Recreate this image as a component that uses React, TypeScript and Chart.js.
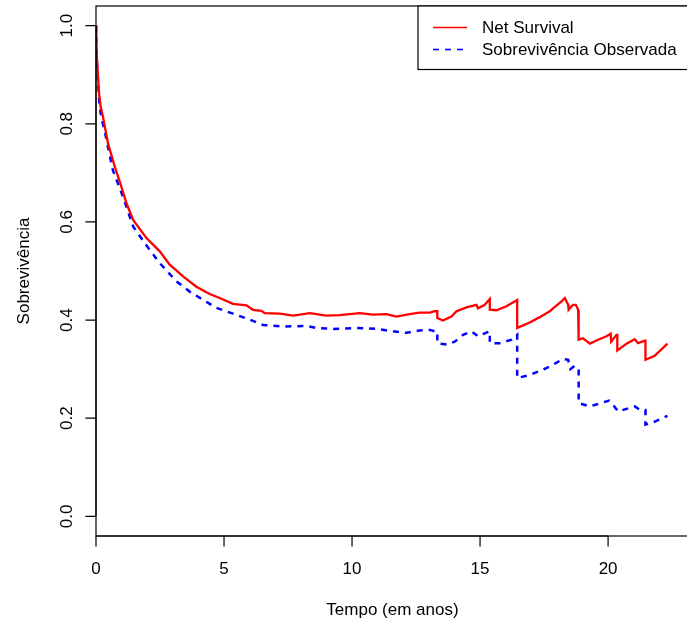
import { useEffect, useRef } from "react";
import { Chart, registerables } from "chart.js";

Chart.register(...registerables);

// Net survival estimate (years, proportion)
const netTime = [
  0, 0.015, 0.04, 0.08, 0.12, 0.18, 0.27, 0.47, 0.73, 0.99, 1.19, 1.45, 1.97, 2.49, 2.88, 3.4, 3.92,
  4.44, 4.83, 5.35, 5.88, 6.13, 6.46, 6.59, 7.18, 7.7, 8.35, 9.0, 9.52, 10.3, 10.82, 11.34, 11.73,
  12.25, 12.64, 13.04, 13.23, 13.33, 13.33, 13.55, 13.88, 14.08, 14.47, 14.86, 14.92, 15.18, 15.38,
  15.38, 15.64, 16.03, 16.45, 16.45, 16.94, 17.33, 17.72, 17.85, 18.18, 18.31, 18.44, 18.46, 18.63,
  18.74, 18.83, 18.85, 18.85, 19.02, 19.29, 19.61, 19.94, 20.1, 20.12, 20.33, 20.36, 20.36, 20.72,
  21.04, 21.17, 21.43, 21.46, 21.46, 21.82, 22.32,
];
const netSurv = [
  1.0, 0.964, 0.93, 0.896, 0.862, 0.835, 0.815, 0.76, 0.713, 0.672, 0.638, 0.604, 0.567, 0.54, 0.513,
  0.489, 0.468, 0.453, 0.445, 0.433, 0.43, 0.421, 0.419, 0.414, 0.413, 0.409, 0.414, 0.409, 0.41,
  0.414, 0.411, 0.412, 0.407, 0.412, 0.415, 0.415, 0.418, 0.418, 0.404, 0.399, 0.407, 0.418, 0.426,
  0.431, 0.424, 0.431, 0.443, 0.421, 0.42, 0.428, 0.441, 0.384, 0.395, 0.406, 0.418, 0.424, 0.438,
  0.445, 0.431, 0.421, 0.431, 0.431, 0.421, 0.421, 0.36, 0.363, 0.352, 0.36, 0.367, 0.372, 0.356,
  0.37, 0.37, 0.338, 0.352, 0.361, 0.353, 0.358, 0.358, 0.319, 0.327, 0.352,
];

// Observed (overall) survival
const obsTime = [
  0, 0.015, 0.04, 0.08, 0.14, 0.22, 0.34, 0.66, 1.05, 1.45, 1.9, 2.49, 3.14, 3.66, 4.38, 4.7, 5.35,
  6.0, 6.52, 7.3, 8.22, 8.61, 9.26, 10.17, 10.95, 11.6, 12.13, 12.64, 13.04, 13.23, 13.33, 13.33,
  13.69, 14.01, 14.34, 14.66, 14.92, 15.18, 15.38, 15.38, 15.77, 16.23, 16.45, 16.45, 16.94, 17.46,
  17.85, 18.24, 18.44, 18.53, 18.7, 18.85, 18.85, 19.29, 19.67, 20.04, 20.2, 20.39, 20.72, 21.04,
  21.24, 21.46, 21.46, 21.82, 22.32,
];
const obsSurv = [
  1.0, 0.96, 0.922, 0.885, 0.835, 0.81, 0.785, 0.705, 0.652, 0.591, 0.557, 0.516, 0.479, 0.458, 0.435,
  0.425, 0.413, 0.401, 0.39, 0.387, 0.388, 0.384, 0.382, 0.384, 0.382, 0.377, 0.374, 0.379, 0.38,
  0.377, 0.377, 0.353, 0.35, 0.356, 0.37, 0.377, 0.367, 0.373, 0.377, 0.353, 0.353, 0.36, 0.37,
  0.282, 0.288, 0.299, 0.309, 0.321, 0.319, 0.3, 0.307, 0.3, 0.231, 0.224, 0.23, 0.236, 0.227, 0.214,
  0.219, 0.224, 0.217, 0.217, 0.187, 0.193, 0.205,
];

const xTicks = [0, 5, 10, 15, 20];
const yTicks = [0, 0.2, 0.4, 0.6, 0.8, 1.0];
const yTickLabels = ["0.0", "0.2", "0.4", "0.6", "0.8", "1.0"];
const seriesLabels = ["Net Survival", "Sobrevivência Observada"];
const seriesColors = ["#ff0000", "#0000ff"];
const xTitle = "Tempo (em anos)";
const yTitle = "Sobrevivência";

const W = 690;
const H = 625;
const X_MAX = 23.16;
const FONT = '17px "Liberation Sans", Arial, Helvetica, sans-serif';

const toPoints = (t: number[], v: number[]) =>
  t.slice(0, Math.min(t.length, v.length)).map((x, i) => ({ x, y: v[i] }));

// Base-graphics style frame: box, outward ticks, rotated y labels, legend
const framePlugin = {
  id: "frame",
  afterDraw(chart: any) {
    const { ctx, chartArea: a, scales } = chart;
    const xs = scales.x;
    const ys = scales.y;
    ctx.save();
    ctx.strokeStyle = "#000";
    ctx.fillStyle = "#000";
    ctx.lineWidth = 1.2;
    ctx.font = FONT;

    ctx.strokeRect(a.left, a.top, a.right - a.left, a.bottom - a.top);

    // x axis
    ctx.beginPath();
    ctx.moveTo(xs.getPixelForValue(xTicks[0]), a.bottom);
    ctx.lineTo(xs.getPixelForValue(xTicks[xTicks.length - 1]), a.bottom);
    xTicks.forEach((t) => {
      const px = xs.getPixelForValue(t);
      ctx.moveTo(px, a.bottom);
      ctx.lineTo(px, a.bottom + 10.5);
    });
    ctx.stroke();
    ctx.textAlign = "center";
    ctx.textBaseline = "middle";
    xTicks.forEach((t) => {
      ctx.fillText(String(t), xs.getPixelForValue(t), a.bottom + 33.5);
    });
    ctx.fillText(xTitle, (a.left + a.right) / 2, a.bottom + 74);

    // y axis
    ctx.beginPath();
    ctx.moveTo(a.left, ys.getPixelForValue(yTicks[0]));
    ctx.lineTo(a.left, ys.getPixelForValue(yTicks[yTicks.length - 1]));
    yTicks.forEach((t) => {
      const py = ys.getPixelForValue(t);
      ctx.moveTo(a.left, py);
      ctx.lineTo(a.left - 10.5, py);
    });
    ctx.stroke();
    ctx.textBaseline = "alphabetic";
    yTicks.forEach((t, i) => {
      ctx.save();
      ctx.translate(72, ys.getPixelForValue(t));
      ctx.rotate(-Math.PI / 2);
      ctx.fillText(yTickLabels[i], 0, 0);
      ctx.restore();
    });
    ctx.save();
    ctx.translate(29.3, (a.top + a.bottom) / 2);
    ctx.rotate(-Math.PI / 2);
    ctx.fillText(yTitle, 0, 0);
    ctx.restore();

    // legend
    const lx = 418;
    const lb = 69.5;
    ctx.fillStyle = "#fff";
    ctx.fillRect(lx, a.top, a.right - lx, lb - a.top);
    ctx.strokeRect(lx, a.top, a.right - lx, lb - a.top);
    const rows = [27.5, 49.5];
    seriesLabels.forEach((label, i) => {
      ctx.beginPath();
      ctx.strokeStyle = seriesColors[i];
      ctx.lineWidth = 1.6;
      ctx.setLineDash(i === 1 ? [6, 6] : []);
      ctx.moveTo(433, rows[i]);
      ctx.lineTo(467, rows[i]);
      ctx.stroke();
      ctx.setLineDash([]);
      ctx.fillStyle = "#000";
      ctx.textAlign = "left";
      ctx.textBaseline = "middle";
      ctx.fillText(label, 482, rows[i] + 0.5);
    });
    ctx.restore();
  },
};

export default function App() {
  const ref = useRef<HTMLCanvasElement | null>(null);

  useEffect(() => {
    if (!ref.current) return;
    const chart = new Chart(ref.current, {
      type: "line",
      data: {
        datasets: [
          {
            label: seriesLabels[0],
            data: toPoints(netTime, netSurv),
            borderColor: seriesColors[0],
            borderWidth: 2.3,
            pointRadius: 0,
            tension: 0,
            fill: false,
          },
          {
            label: seriesLabels[1],
            data: toPoints(obsTime, obsSurv),
            borderColor: seriesColors[1],
            borderWidth: 2.5,
            borderDash: [6, 6],
            pointRadius: 0,
            tension: 0,
            fill: false,
          },
        ],
      },
      options: {
        responsive: false,
        animation: false,
        devicePixelRatio: 1,
        layout: { padding: { left: 96, top: 6, right: W - 689, bottom: H - 536 } },
        scales: {
          x: { type: "linear", min: 0, max: X_MAX, display: false },
          y: { type: "linear", min: -0.04, max: 1.04, display: false },
        },
        plugins: {
          legend: { display: false },
          tooltip: { enabled: false },
        },
      },
      plugins: [framePlugin],
    });
    return () => chart.destroy();
  }, []);

  return (
    <div
      style={{
        position: "fixed",
        left: 0,
        top: 0,
        width: 687,
        height: 625,
        overflow: "hidden",
        background: "#fff",
      }}
    >
      <canvas ref={ref} width={W} height={H} style={{ width: W, height: H, display: "block" }} />
    </div>
  );
}
